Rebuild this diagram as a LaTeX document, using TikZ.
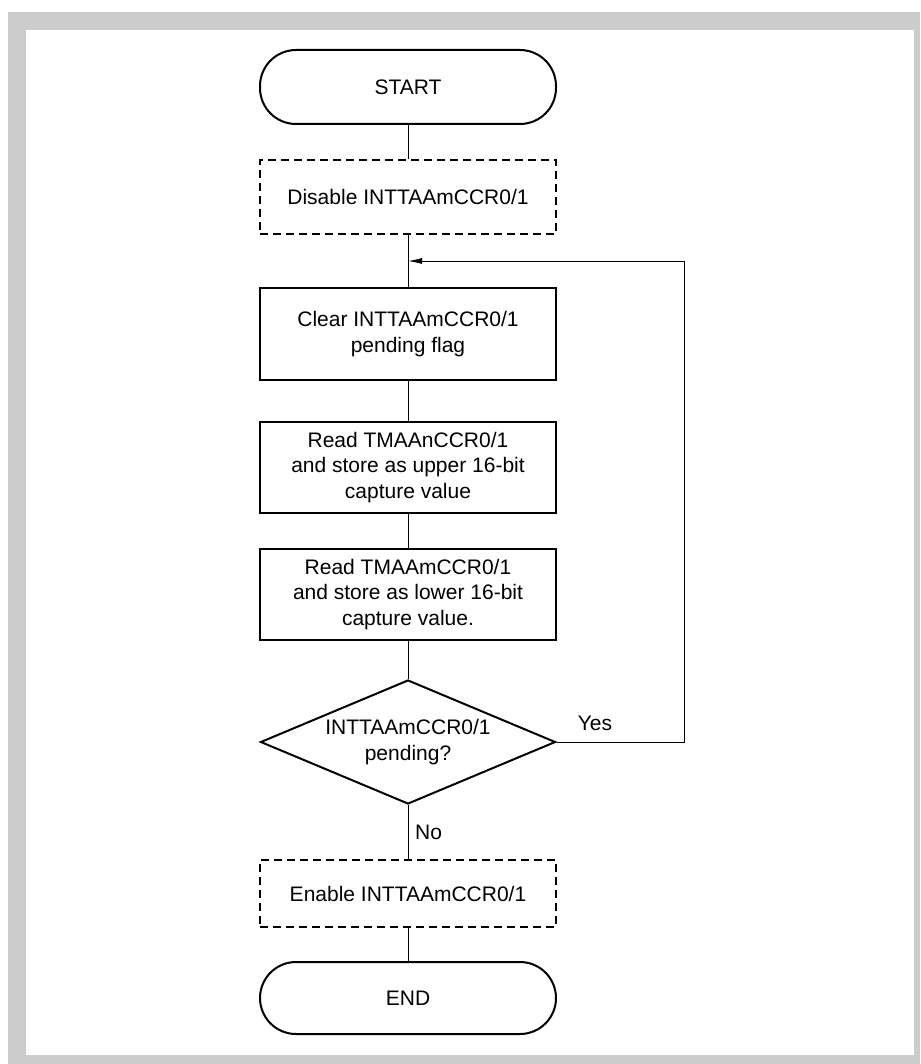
\documentclass[tikz,border=0pt]{standalone}
\usepackage{fontspec}
\setmainfont{Liberation Sans}
\usetikzlibrary{
    arrows.meta,
    positioning,
    shapes.geometric
}

\begin{document}
\begin{tikzpicture}[node distance=17pt,
    every node/.style={font=\fontsize{10.5pt}{12.75pt}\selectfont, align=center},
    term/.style={draw, line width=1pt, rounded corners=18pt, minimum width=148pt, minimum height=37pt},
    dashbox/.style={draw, line width=1pt, dash pattern=on 4pt off 2.5pt, minimum width=148pt, minimum height=37pt},
    procbox/.style={draw, line width=1pt, minimum width=148pt, minimum height=45.5pt},
    decision/.style={draw, diamond, line width=1pt, aspect=2.4, inner sep=0pt, minimum width=147.5pt, minimum height=62pt},
    link/.style={line width=0.5pt}]
    % frame
    \fill[gray!40] (4pt,-6pt) rectangle (460pt,-532pt);
    \fill[white] (13pt,-15pt) rectangle (457pt,-527.5pt);
    \useasboundingbox (0,0) rectangle (460pt,-532pt);

    \node[term] (start) at (204pt,-43.5pt) {START};
    \node[dashbox, below=of start] (dis) {Disable INTTAAmCCR0/1};
    \coordinate[below=13pt of dis] (join);
    \node[procbox, below=13pt of join, minimum height=46pt] (clr) {Clear INTTAAmCCR0/1\\pending flag};
    \node[procbox, below=20pt of clr] (rd1) {Read TMAAnCCR0/1\\and store as upper 16-bit\\capture value};
    \node[procbox, below=of rd1] (rd2) {Read TMAAmCCR0/1\\and store as lower 16-bit\\capture value.};
    \node[decision, below=19pt of rd2] (dec) {INTTAAmCCR0/1\\pending?};
    \node[dashbox, below=27pt of dec, minimum height=33.5pt] (ena) {Enable INTTAAmCCR0/1};
    \node[term, below=16.5pt of ena, minimum height=36pt] (end) {END};

    \draw[link] (start) -- (dis);
    \draw[link] (dis) -- (clr);
    \draw[link] (clr) -- (rd1);
    \draw[link] (rd1) -- (rd2);
    \draw[link] (rd2) -- (dec);
    \draw[link] (dec) -- node[right]{No} (ena);
    \draw[link] (ena) -- (end);
    \draw[link, -{Latex[length=7pt, width=3pt]}] (dec.east) -- node[above, pos=0.3, yshift=2pt]{Yes} ++(64pt,0) |- (join);
\end{tikzpicture}
\end{document}
